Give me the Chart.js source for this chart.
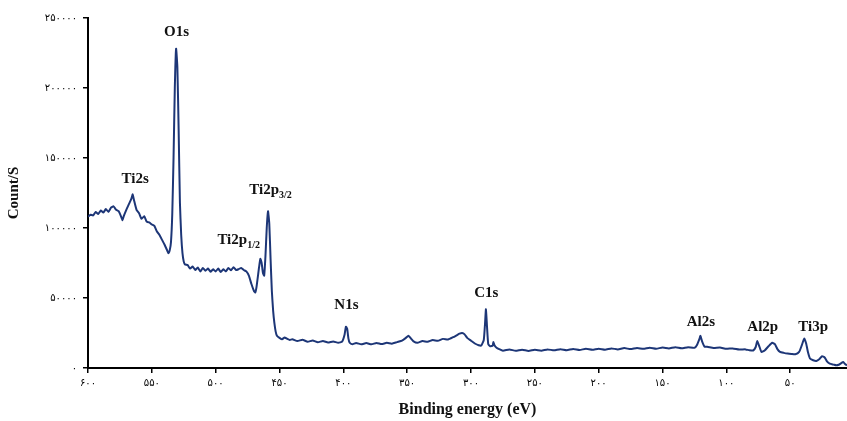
<!DOCTYPE html>
<html>
<head>
<meta charset="utf-8">
<script src="https://cdn.jsdelivr.net/npm/chart.js@4/dist/chart.umd.min.js"></script>
<style>
html,body{margin:0;padding:0;background:#fff;}
#wrap{width:847px;height:421px;position:relative;}
</style>
</head>
<body>
<div id="wrap"><canvas id="c" width="847" height="421"></canvas></div>
<script>
// Binding energy (eV) and counts
const energy = [600,598,596,594,592,590,588,586,584,582,580,578,576,574,573,572,570,568,566,565,564,562,560,558,556,554,552,550,548,546,544,542,540,538,537,536,535,534,533,532,531,530,529,528,527,526,525,524,522,520,518,516,514,512,510,508,506,504,502,500,498,496,494,492,490,488,486,484,482,480,478,476,474,472,470,469,468,466,465,464,463,462,461,460,459,458,457,456,455,454,453,452,450,448,446,444,442,440,436,432,428,424,420,416,412,408,404,401,399,398,397,396,395,393,390,386,382,378,374,370,366,362,358,354,351,349,347,345,342,338,334,330,326,322,318,314,311,309,307,305,303,300,297,294,292,290,289,288.3,287.5,286.5,285,283,282.5,281.5,280,278,275,270,265,260,255,250,245,240,235,230,225,220,215,210,205,200,195,190,185,180,175,170,165,160,155,150,145,140,135,130,125,123,121,120.3,119,117,115,110,105,100,95,90,85,82,79,77,75.8,74,72.5,70,67,64,62,60,58,55,52,49,46,43,41,39,37.5,36,34.5,32,29.5,27,25,23,21,19,16,14,12,10,8.5,7,5.5];
const counts = [108000,109500,109000,111500,110000,112500,111000,113500,111500,114500,115500,113000,112000,108000,105500,108500,113000,117000,121000,124000,120000,113000,110500,106500,108500,104500,104000,102500,101500,97500,95000,91500,88000,84000,82000,84000,90000,110000,150000,200000,228000,215000,170000,118000,95000,82000,76000,74000,73500,71000,72500,70000,71800,69000,71500,69500,71000,68800,70500,69000,71000,68500,70500,69000,71500,69800,72000,70000,70600,71500,70000,69000,66000,60000,55000,54000,58000,72000,78000,75000,68000,66000,80000,100000,112000,103000,78000,55000,41000,32000,26000,23000,21500,20500,21800,20800,20000,20600,19200,20200,18800,19600,18400,19300,18200,19000,18000,18800,24000,29500,28000,21000,18000,17000,17900,16900,17800,16900,17900,17100,18000,17400,18500,19500,21500,23000,21000,19000,18000,19300,18700,20000,19400,20800,20300,22000,23500,24500,25000,24000,21500,19500,17500,16200,16000,20000,32000,42000,30000,17000,15500,16000,18500,16000,14500,13500,12400,13200,12300,13100,12200,13000,12400,13300,12600,13400,12700,13600,12900,13700,13000,13800,13100,14000,13300,14200,13500,14300,13700,14500,13800,14600,14000,14800,14100,14900,14400,16500,21000,23000,19000,15200,15200,14300,14600,13700,14000,13200,13300,12700,12500,15000,19300,15000,11500,12500,15500,18000,17000,13500,11500,10800,10300,10000,9800,11500,16000,21000,17500,11000,6800,5500,5000,6500,8400,7500,4500,3100,2400,1900,2300,3500,4300,2800,1900];

// Axis ticks and their (Persian-digit) labels
const xTicks = [600,550,500,450,400,350,300,250,200,150,100,50];
const xTickLabels = ['۶۰۰','۵۵۰','۵۰۰','۴۵۰','۴۰۰','۳۵۰','۳۰۰','۲۵۰','۲۰۰','۱۵۰','۱۰۰','۵۰'];
const yTicks = [0,50000,100000,150000,200000,250000];
const yTickLabels = ['۰','۵۰۰۰۰','۱۰۰۰۰۰','۱۵۰۰۰۰','۲۰۰۰۰۰','۲۵۰۰۰۰'];

// Peak annotations
const peakNames = ['O1s','Ti2s','Ti2p','Ti2p','N1s','C1s','Al2s','Al2p','Ti3p'];
const peakSubs  = ['','','3/2','1/2','','','','',''];
const peakX     = [530.6,563,457,482,397.6,288,120,71.5,32];
const peakY     = [240000,134700,127000,91000,44800,53200,32600,29100,29100];

const annPlugin = {
  id: 'ann',
  afterDatasetsDraw(chart) {
    const ctx = chart.ctx, xs = chart.scales.x, ys = chart.scales.y;
    ctx.save();
    ctx.fillStyle = '#111';
    ctx.textBaseline = 'middle';
    const mainFont = 'bold 15px "Liberation Serif"';
    const subFont = 'bold 10px "Liberation Serif"';
    for (let i = 0; i < peakNames.length; i++) {
      ctx.font = mainFont;
      const w1 = ctx.measureText(peakNames[i]).width;
      ctx.font = subFont;
      const w2 = peakSubs[i] ? ctx.measureText(peakSubs[i]).width : 0;
      const cx = xs.getPixelForValue(peakX[i]);
      const cy = ys.getPixelForValue(peakY[i]);
      const x0 = cx - (w1 + w2) / 2;
      ctx.textAlign = 'left';
      ctx.font = mainFont;
      ctx.fillText(peakNames[i], x0, cy);
      if (peakSubs[i]) {
        ctx.font = subFont;
        ctx.fillText(peakSubs[i], x0 + w1, cy + 5);
      }
    }
    ctx.restore();
  }
};

new Chart(document.getElementById('c'), {
  type: 'line',
  data: {
    datasets: [{
      data: energy.map((e, i) => ({x: e, y: counts[i]})),
      borderColor: '#1d3677',
      borderWidth: 2,
      pointRadius: 0,
      fill: false,
      tension: 0.15,
      borderJoinStyle: 'round'
    }]
  },
  options: {
    responsive: false,
    animation: false,
    layout: {padding: {top: 18, right: 0, left: 0, bottom: 0}},
    plugins: {legend: {display: false}, tooltip: {enabled: false}},
    scales: {
      x: {
        type: 'linear',
        reverse: true,
        min: 5.5,
        max: 600,
        afterBuildTicks: (s) => { s.ticks = xTicks.map(v => ({value: v})); },
        afterFit: (s) => { s.height = 53; },
        ticks: {
          autoSkip: false,
          maxRotation: 0,
          padding: 4,
          color: '#000',
          font: {family: '"DejaVu Sans"', size: 10},
          callback: (v, i) => xTickLabels[i]
        },
        grid: {drawOnChartArea: false, drawTicks: true, tickLength: 5, color: '#000', lineWidth: 1.5},
        border: {color: '#000', width: 2},
        title: {
          display: true,
          text: 'Binding energy (eV)',
          color: '#111',
          font: {family: '"Liberation Serif"', size: 16, weight: 'bold'},
          padding: {top: 0, bottom: 2}
        }
      },
      y: {
        type: 'linear',
        min: 0,
        max: 250000,
        afterBuildTicks: (s) => { s.ticks = yTicks.map(v => ({value: v})); },
        afterFit: (s) => { s.width = 88; },
        ticks: {
          padding: 6,
          color: '#000',
          font: {family: '"DejaVu Sans"', size: 10},
          callback: (v, i) => yTickLabels[i]
        },
        grid: {drawOnChartArea: false, drawTicks: true, tickLength: 5, color: '#000', lineWidth: 1.5},
        border: {color: '#000', width: 2},
        title: {
          display: true,
          text: 'Count/S',
          color: '#111',
          font: {family: '"Liberation Serif"', size: 15, weight: 'bold'},
          padding: {top: 5, bottom: 0}
        }
      }
    }
  },
  plugins: [annPlugin]
});
</script>
</body>
</html>
